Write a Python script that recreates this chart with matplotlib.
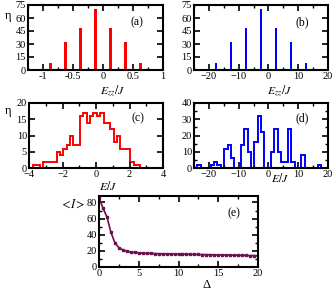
import matplotlib
matplotlib.use('Agg')
import matplotlib.pyplot as plt
import numpy as np
from matplotlib.ticker import MultipleLocator

plt.rcParams['font.family'] = ['Liberation Serif', 'DejaVu Serif']
plt.rcParams['mathtext.fontset'] = 'stix'

# ---- data ----
ezz_a = [-1.125, -0.875, -0.625, -0.375, -0.125, 0.125, 0.375, 0.625, 0.875]
eta_a = [1, 8, 32, 48, 70, 48, 32, 8, 1]
ezz_b = [-22.5, -17.5, -12.5, -7.5, -2.5, 2.5, 7.5, 12.5, 17.5]
eta_b = [1, 8, 32, 48, 70, 48, 32, 8, 1]

edges_c = [-3.75, -3.55, -3.35, -3.15, -2.95, -2.75, -2.55, -2.35, -2.15, -1.95,
           -1.75, -1.55, -1.35, -1.15, -0.95, -0.75, -0.55, -0.35, -0.15, 0.05,
           0.25, 0.45, 0.65, 0.85, 1.05, 1.25, 1.45, 1.65, 1.85, 2.05, 2.25, 2.45, 2.65]
counts_c = [1, 1, 0, 2, 2, 2, 2, 5, 4, 6, 7, 10, 7, 7, 16, 17, 14, 16, 17, 16,
            17, 14, 14, 12, 8, 10, 6, 6, 6, 2, 1, 1]

edges_d = list(np.round(np.arange(-25.0, 20.001, 1.125), 3))
counts_d = [0, 2, 0, 0, 0, 2, 4, 2, 0, 12, 14, 6, 0, 0, 14, 24, 10, 0, 16, 32,
            22, 0, 0, 10, 24, 10, 4, 4, 24, 4, 0, 0, 8, 0, 0, 0, 0, 2, 0, 0]

delta_e = [0, 0.5, 1, 1.5, 2, 2.5, 3, 3.5, 4, 4.5, 5, 5.5, 6, 6.5, 7, 7.5, 8, 8.5,
           9, 9.5, 10, 10.5, 11, 11.5, 12, 12.5, 13, 13.5, 14, 14.5, 15, 15.5, 16,
           16.5, 17, 17.5, 18, 18.5, 19, 19.5, 20]
I_e = [86, 73, 62, 43, 30, 24, 21, 19.5, 18.5, 18, 17.5, 17.2, 17, 16.8, 16.6,
       16.5, 16.4, 16.3, 16.2, 16.1, 16, 15.9, 15.8, 15.7, 15.6, 15.5, 15.4, 15.3,
       15.2, 15.1, 15, 14.9, 14.8, 14.7, 14.6, 14.5, 14.4, 14.3, 14.2, 14.1, 14]

W, H = 332, 292
fig = plt.figure(figsize=(W / 100, H / 100), dpi=100)


def box(l, t, r, b):
    return [l / W, 1 - b / H, (r - l) / W, (b - t) / H]


def style(ax, xmaj, xmin, ymaj, ymin):
    ax.xaxis.set_major_locator(MultipleLocator(xmaj))
    ax.xaxis.set_minor_locator(MultipleLocator(xmin))
    ax.yaxis.set_major_locator(MultipleLocator(ymaj))
    ax.yaxis.set_minor_locator(MultipleLocator(ymin))
    ax.tick_params(which='both', direction='in', top=True, right=True,
                   labelsize=7.5, pad=1.5)
    ax.tick_params(which='major', length=4, width=1.2)
    ax.tick_params(which='minor', length=2, width=1.0)
    for s in ax.spines.values():
        s.set_linewidth(1.5)


def ftext(x, y, s, **kw):
    fig.text(x / W, 1 - y / H, s, ha='center', va='center', **kw)


ax_a = fig.add_axes(box(28, 5, 163, 70))
ax_a.bar(ezz_a, eta_a, width=0.035, color='#ff0000')
ax_a.set_xlim(-1.25, 1)
ax_a.set_ylim(0, 75)
style(ax_a, 0.5, 0.25, 15, 15)
ax_a.set_xticks([-1, -0.5, 0, 0.5, 1])
ax_a.set_xticklabels(['-1', '-0.5', '0', '0.5', '1'])
ax_a.text(0.81, 0.73, '(a)', transform=ax_a.transAxes, ha='center', va='center', fontsize=8.5)

ax_b = fig.add_axes(box(194, 5, 328, 70))
ax_b.bar(ezz_b, eta_b, width=0.7, color='#0000ff')
ax_b.set_xlim(-25, 20)
ax_b.set_ylim(0, 75)
style(ax_b, 10, 5, 15, 15)
ax_b.text(0.81, 0.73, '(b)', transform=ax_b.transAxes, ha='center', va='center', fontsize=8.5)

ax_c = fig.add_axes(box(29, 103, 163, 168))
ax_c.stairs(counts_c, edges_c, color='#ff0000', linewidth=1.4, baseline=0)
ax_c.set_xlim(-4, 4)
ax_c.set_ylim(0, 20)
style(ax_c, 2, 1, 5, 5)
ax_c.text(0.81, 0.76, '(c)', transform=ax_c.transAxes, ha='center', va='center', fontsize=8.5)

ax_d = fig.add_axes(box(194, 103, 328, 168))
ax_d.stairs(counts_d, edges_d, color='#0000ff', linewidth=1.4, baseline=0)
ax_d.set_xlim(-25, 20)
ax_d.set_ylim(0, 40)
style(ax_d, 10, 5, 10, 5)
ax_d.text(0.81, 0.76, '(d)', transform=ax_d.transAxes, ha='center', va='center', fontsize=8.5)

ax_e = fig.add_axes(box(99, 196, 258, 267))
ax_e.plot(delta_e, I_e, color='#6a1050', linewidth=1.2, marker='s', markersize=1.8)
ax_e.set_xlim(0, 20)
ax_e.set_ylim(0, 88)
style(ax_e, 5, 2.5, 20, 10)
ax_e.text(0.85, 0.75, '(e)', transform=ax_e.transAxes, ha='center', va='center', fontsize=8.5)

ftext(8.5, 16, 'η', fontsize=9)
ftext(8.5, 111, 'η', fontsize=9)
ftext(113, 91, r'$E_{zz}/J$', fontsize=8.5)
ftext(280, 91, r'$E_{zz}/J$', fontsize=8.5)
ftext(108, 186, r'$E/J$', fontsize=8.5)
ftext(280, 179, r'$E/J$', fontsize=8.5)
ftext(207, 285, 'Δ', fontsize=9)
ftext(72, 204, r'$<\!I\!>$', fontsize=9)

fig.savefig('out.png', dpi=100)
